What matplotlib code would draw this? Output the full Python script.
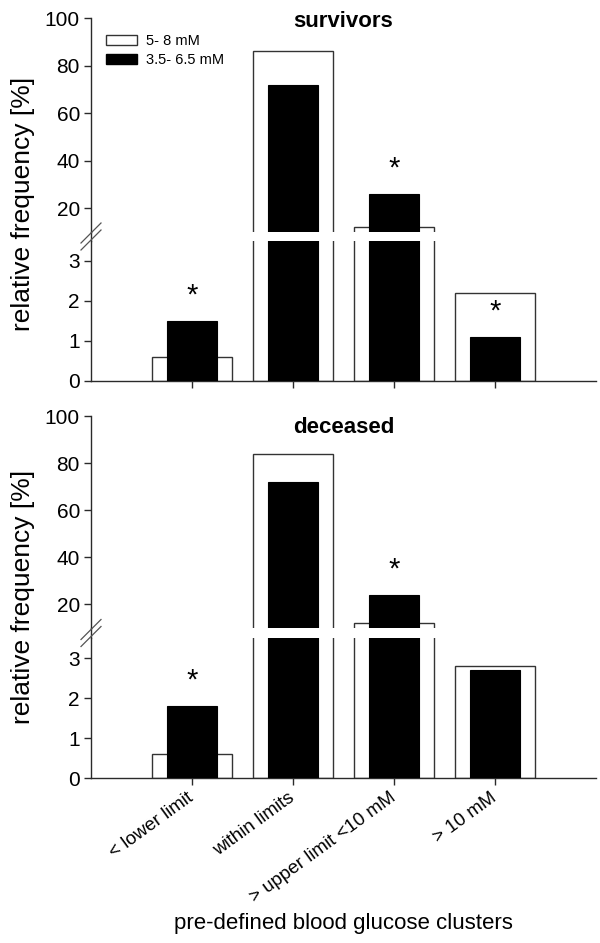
import matplotlib
matplotlib.use('Agg')
import matplotlib.pyplot as plt
from matplotlib.lines import Line2D
from matplotlib.patches import Patch

plt.rcParams['font.family'] = ['Liberation Sans', 'DejaVu Sans']

# ---------------- data ----------------
categories = ['< lower limit', 'within limits', '> upper limit <10 mM', '> 10 mM']
series_names = ['5- 8 mM', '3.5- 6.5 mM']
panel_titles = ['survivors', 'deceased']

survivors_5_8 = [0.6, 86, 12, 2.2]
survivors_35_65 = [1.5, 72, 26, 1.1]
deceased_5_8 = [0.6, 84, 12, 2.8]
deceased_35_65 = [1.8, 72, 24, 2.7]

survivors_sig = [True, False, True, True]
deceased_sig = [True, False, True, False]

upper_ticks = [20, 40, 60, 80, 100]
lower_ticks = [0, 1, 2, 3]
upper_range = (10, 100)
lower_range = (0, 3.5)

ylabel = 'relative frequency [%]'
xlabel = 'pre-defined blood glucose clusters'

# ---------------- layout ----------------
W, H = 600, 943
fig = plt.figure(figsize=(W / 100, H / 100), dpi=100)

L, R = 91 / W, 596 / W

def fy(px):
    return 1 - px / H

# (upper top, upper bottom, lower top, lower bottom) in pixels
panel_px = [(18, 232, 241, 381), (416, 628, 638, 778)]
ylabel_centers = [204, 597]

spine_col = '#2a2a2a'
edge_col = '#333333'
tick_fs = 15

panels = [(survivors_5_8, survivors_35_65, survivors_sig),
          (deceased_5_8, deceased_35_65, deceased_sig)]

x = list(range(len(categories)))

for p, ((white_vals, black_vals, sig), (ut, ub, lt, lb)) in enumerate(zip(panels, panel_px)):
    ax_u = fig.add_axes([L, fy(ub), R - L, (ub - ut) / H])
    ax_l = fig.add_axes([L, fy(lb), R - L, (lb - lt) / H])
    for ax, rng, ticks in ((ax_u, upper_range, upper_ticks), (ax_l, lower_range, lower_ticks)):
        ax.bar(x, white_vals, width=0.8, color='white', edgecolor=edge_col, linewidth=1.0, zorder=2)
        ax.bar(x, black_vals, width=0.5, color='black', edgecolor='black', linewidth=0.8, zorder=3)
        ax.set_xlim(-1, 4)
        ax.set_ylim(*rng)
        ax.set_yticks(ticks)
        ax.set_yticklabels([str(t) for t in ticks], fontsize=tick_fs)
        for s in ('top', 'right'):
            ax.spines[s].set_visible(False)
        ax.spines['left'].set_color(spine_col)
        ax.spines['left'].set_linewidth(1.0)
        ax.tick_params(axis='y', direction='out', length=5, width=1, color=spine_col, pad=3)
        ax.patch.set_alpha(0)
    ax_u.spines['bottom'].set_visible(False)
    ax_u.set_xticks([])
    ax_l.spines['bottom'].set_color(spine_col)
    ax_l.spines['bottom'].set_linewidth(1.0)
    ax_l.set_xticks(x)
    ax_l.tick_params(axis='x', direction='out', length=5, width=1, color=spine_col)
    if p == 1:
        ax_l.set_xticklabels(categories, rotation=36, ha='right', va='center',
                             rotation_mode='anchor', fontsize=13.5)
        ax_l.tick_params(axis='x', pad=8)
    else:
        ax_l.set_xticklabels([])

    # significance stars
    for xi, v, s in zip(x, black_vals, sig):
        if not s:
            continue
        ax = ax_u if v > lower_range[1] else ax_l
        ax.annotate('*', xy=(xi, v), xytext=(0, 8), textcoords='offset points',
                    ha='center', va='bottom', fontsize=21, color='black')

    # title
    ax_u.text(0.5, 1 - (9 if p == 0 else 17) / (ub - ut), panel_titles[p], transform=ax_u.transAxes,
              ha='center', va='baseline', fontsize=16, fontweight='bold')

    # continuous spine through the gap
    fig.add_artist(Line2D([L, L], [fy(ub), fy(lt)], transform=fig.transFigure,
                          color=spine_col, lw=1.0))
    # break marks
    gc = (ub + lt) / 2
    for dy in (-3.5, 3.5):
        fig.add_artist(Line2D([(L * W - 10) / W, (L * W + 10) / W],
                              [fy(gc + dy + 10), fy(gc + dy - 10)],
                              transform=fig.transFigure, color='#555555', lw=0.9))

    # y label
    fig.text(23 / W, fy(ylabel_centers[p]), ylabel, rotation=90, ha='center', va='center',
             fontsize=19)

    if p == 0:
        ax_u.legend(handles=[Patch(facecolor='white', edgecolor=edge_col, linewidth=1.0),
                             Patch(facecolor='black', edgecolor='black')],
                    labels=series_names, loc='upper left', bbox_to_anchor=(0.03, 0.925),
                    frameon=False, fontsize=10.5, handlelength=2.1, handleheight=0.7,
                    handletextpad=0.6, labelspacing=0.35, borderaxespad=0, borderpad=0)

fig.text(343.5 / W, fy(923), xlabel, ha='center', va='center', fontsize=16)

fig.savefig('out.png', dpi=100)
